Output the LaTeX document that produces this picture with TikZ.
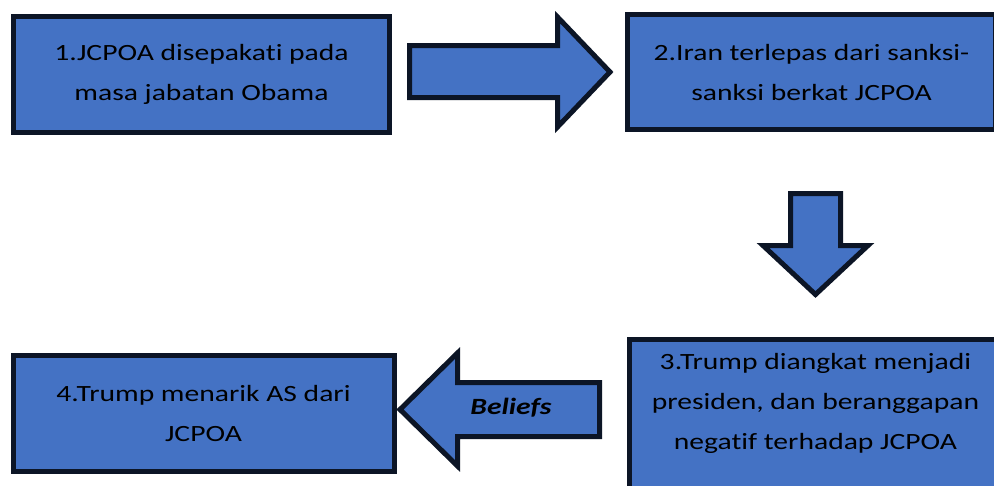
\documentclass[tikz,border=0pt]{standalone}
\usepackage{fontspec}
\setmainfont{Carlito}[FakeStretch=1.27, Ligatures={NoCommon,NoRare,NoContextual}, Contextuals=NoAlternate]
\definecolor{boxfill}{HTML}{4472C4}
\definecolor{boxline}{HTML}{0C1526}
\tikzset{
  stepbox/.style={draw=boxline, fill=boxfill, line width=5pt, rectangle, inner sep=0pt, align=center, font=\fontsize{23.3}{40}\selectfont, text=black},
  blockarrow/.style={draw=boxline, fill=boxfill, line width=5pt, line join=miter},
  txt/.style={inner sep=0pt, align=center, font=\fontsize{23.3}{40}\selectfont, text=black}
}
\begin{document}
\begin{tikzpicture}[x=1pt,y=-1pt]
\useasboundingbox (0,0) rectangle (994,485);
\fill[white] (0,0) rectangle (994,485);
% boxes
\node[stepbox, minimum width=376pt, minimum height=116pt] (b1) at (201.5,74.5) {1.JCPOA disepakati pada\\masa jabatan Obama};
\node[stepbox, minimum width=368pt, minimum height=115pt] (b2) at (811.5,72) {2.Iran terlepas dari sanksi-\\sanksi berkat JCPOA};
\node[stepbox, minimum width=381pt, minimum height=116pt] (b4) at (203.5,413.5) {4.Trump menarik AS dari\\JCPOA};
\node[stepbox, minimum width=380pt, minimum height=180pt, anchor=north west] (b3) at (626.5,336.5) {};
\node[txt] (t3) at (815.5,403) {3.Trump diangkat menjadi\\presiden, dan beranggapan\\negatif terhadap JCPOA};
% block arrows
\draw[blockarrow] (409.5,45.5) -- (557.5,45.5) -- (557.5,17) -- (610,72) -- (557.5,127) -- (557.5,97.5) -- (409.5,97.5) -- cycle;
\draw[blockarrow] (790.5,193.5) -- (840.5,193.5) -- (840.5,245.5) -- (868,245.5) -- (815.5,294.5) -- (763,245.5) -- (790.5,245.5) -- cycle;
\draw[blockarrow] (599.5,382.5) -- (457.5,382.5) -- (457.5,353) -- (400,409.5) -- (457.5,466) -- (457.5,436.5) -- (599.5,436.5) -- cycle;
\node[txt, font=\fontsize{23.3}{40}\selectfont\bfseries\itshape, anchor=base] (bel) at (511,414) {Beliefs};
\end{tikzpicture}
\end{document}
